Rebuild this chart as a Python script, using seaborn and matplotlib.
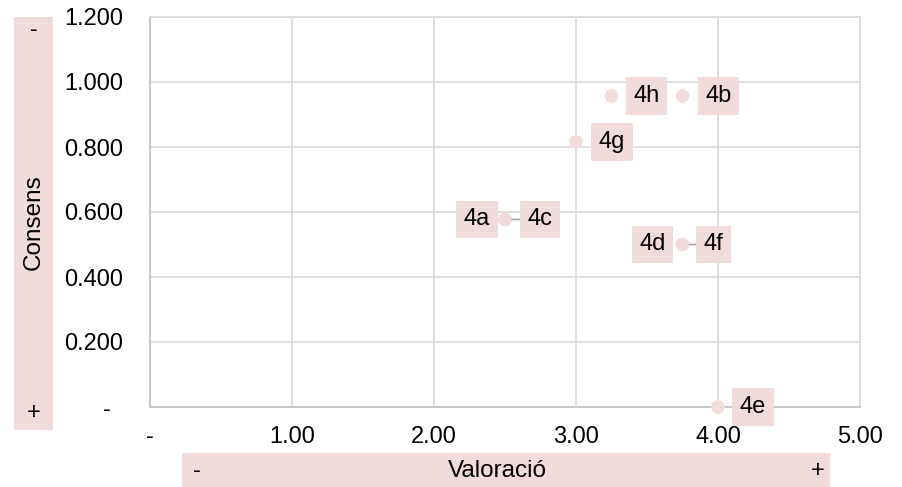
import matplotlib

matplotlib.use("Agg")
import matplotlib.pyplot as plt
import pandas as pd
import seaborn as sns
from matplotlib.patches import Rectangle
from matplotlib.ticker import FuncFormatter, MultipleLocator

# Data
codes = ["4a", "4b", "4c", "4d", "4e", "4f", "4g", "4h"]
valoracio = [2.50, 3.75, 2.50, 3.75, 4.00, 3.75, 3.00, 3.25]
consens = [0.577, 0.957, 0.577, 0.500, 0.000, 0.500, 0.816, 0.957]

# Label placement (pixels offset from the point) and leader lines
label_dx = [-28, 36, 35, -30, 35, 31, 36, 35]
leader = [False, False, True, False, False, True, False, False]

PINK = "#F2DCDB"
GRID = "#D9D9D9"
FONT = 17


def setup_style() -> None:
    sns.set_theme(style="whitegrid")
    plt.rcParams["font.family"] = ["Liberation Sans", "DejaVu Sans"]
    plt.rcParams["font.size"] = FONT
    plt.rcParams["text.color"] = "black"


def main() -> None:
    setup_style()
    df = pd.DataFrame({"code": codes, "x": valoracio, "y": consens})

    fig = plt.figure(figsize=(9.03, 4.87), dpi=100)
    ax = fig.add_axes([150 / 903, 80 / 487, 710 / 903, 390 / 487])

    sns.scatterplot(data=df, x="x", y="y", ax=ax, color=PINK, s=95,
                    edgecolor="none", zorder=3, clip_on=False)

    px = 72 / 100
    for code, x, y, dx, lead in zip(codes, valoracio, consens, label_dx, leader):
        arrow = None
        if lead:
            arrow = dict(arrowstyle="-", color="#A6A6A6", lw=1.2,
                         shrinkA=0, shrinkB=5)
        ax.annotate(code, xy=(x, y), xytext=(dx * px, 0), textcoords="offset points",
                    ha="center", va="center", fontsize=FONT, color="black",
                    bbox=dict(boxstyle="square,pad=0.33", fc=PINK, ec="none"),
                    arrowprops=arrow, zorder=4, annotation_clip=False)

    ax.set_xlim(0, 5)
    ax.set_ylim(0, 1.2)
    ax.xaxis.set_major_locator(MultipleLocator(1))
    ax.yaxis.set_major_locator(MultipleLocator(0.2))
    ax.xaxis.set_major_formatter(FuncFormatter(lambda v, p: "-" if abs(v) < 1e-9 else f"{v:.2f}"))
    ax.yaxis.set_major_formatter(FuncFormatter(lambda v, p: "-  " if abs(v) < 1e-9 else f"{v:.3f}"))
    ax.tick_params(axis="both", length=0, labelsize=FONT, colors="black")
    ax.tick_params(axis="x", pad=14)
    ax.tick_params(axis="y", pad=19)
    ax.grid(True, color=GRID, linewidth=1.2)
    ax.set_facecolor("white")
    for side in ["top", "right", "left", "bottom"]:
        ax.spines[side].set_visible(True)
        ax.spines[side].set_color(GRID)
        ax.spines[side].set_linewidth(1.2)
    ax.spines["left"].set_color("#BFBFBF")
    ax.spines["bottom"].set_color("#BFBFBF")
    ax.set_xlabel("")
    ax.set_ylabel("")

    # Y axis title box
    W, H = 903, 487
    fig.patches.append(Rectangle((14 / W, (H - 430) / H), 39 / W, 413 / H,
                                 transform=fig.transFigure, fc=PINK, ec="none", zorder=0))
    fig.text(34 / W, (H - 30) / H, "-", ha="center", va="center", fontsize=FONT)
    fig.text(34 / W, (H - 413) / H, "+", ha="center", va="center", fontsize=FONT)
    fig.text(34 / W, (H - 222) / H, "Consens", ha="center", va="center",
             rotation=90, fontsize=FONT + 0.5)

    # X axis title box
    fig.patches.append(Rectangle((182 / W, 0), 648 / W, 34 / H,
                                 transform=fig.transFigure, fc=PINK, ec="none", zorder=0))
    fig.text(197 / W, 16 / H, "-", ha="center", va="center", fontsize=FONT)
    fig.text(818 / W, 16 / H, "+", ha="center", va="center", fontsize=FONT)
    fig.text(497 / W, 16 / H, "Valoració", ha="center", va="center", fontsize=FONT + 0.5)

    fig.savefig("out.png", dpi=100)
    plt.close(fig)


if __name__ == "__main__":
    main()
